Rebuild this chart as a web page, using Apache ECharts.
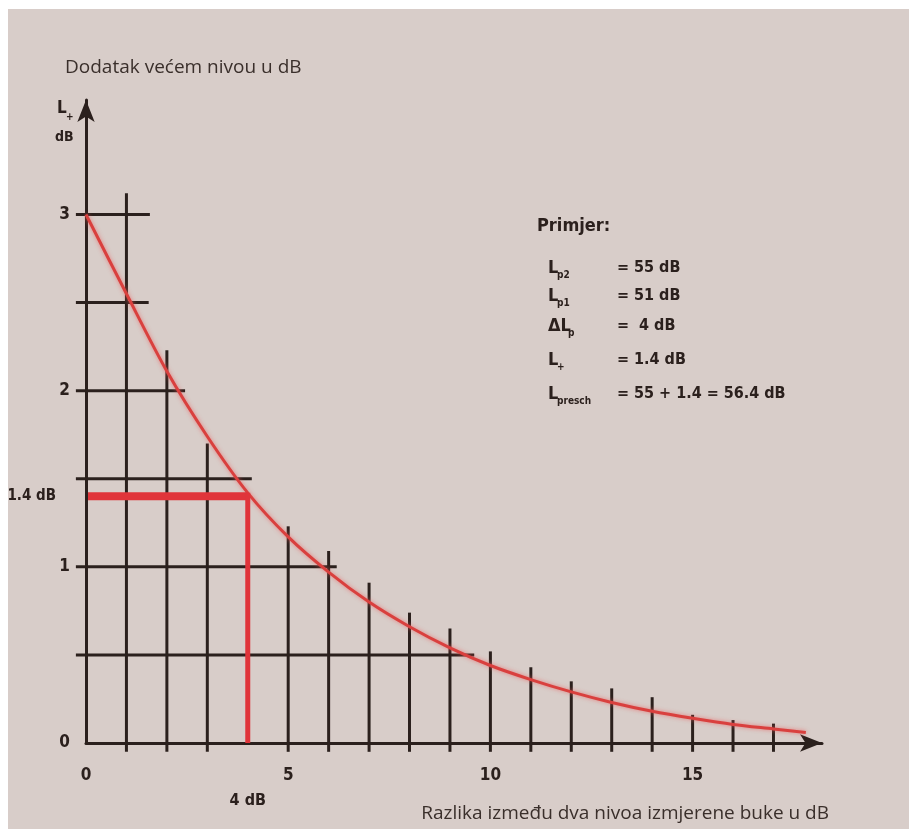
<!DOCTYPE html>
<html>
<head>
<meta charset="utf-8">
<script src="https://cdn.jsdelivr.net/npm/echarts@6/dist/echarts.min.js"></script>
<style>
html,body{margin:0;padding:0;background:#fff;}
#c{width:909px;height:829px;}
</style>
</head>
<body>
<div id="c"></div>
<script>
// ---- data ----
const curveX = [0,1,2,3,4,5,6,7,8,9,10,11,12,13,14,15,16,17,17.8];
const curveY = [3.0,2.55,2.11,1.74,1.42,1.17,0.97,0.80,0.66,0.54,0.44,0.36,0.29,0.23,0.18,0.14,0.105,0.08,0.06];
const vGridX = [1,2,3,5,6,7,8,9,10,11,12,13,14,15,16,17];
const vGridTop = [3.12,2.23,1.70,1.23,1.09,0.91,0.74,0.65,0.52,0.43,0.35,0.31,0.26,0.16,0.13,0.11];
const hGridY = [0.5,1,1.5,2,2.5,3];
const hGridEnd = [9.6,6.2,4.1,2.45,1.55,1.58];
const xTickLabels = [0,5,10,15];
const yTickLabels = [0,1,2,3];
const exampleDiff = 4;      // ΔLp
const exampleAdd = 1.4;     // L+
const exampleRows = [
  {main:'L', sub:'p2', val:'= 55 dB'},
  {main:'L', sub:'p1', val:'= 51 dB'},
  {main:'ΔL', sub:'p', val:'=  4 dB'},
  {main:'L', sub:'+', val:'= 1.4 dB'},
  {main:'L', sub:'presch', val:'= 55 + 1.4 = 56.4 dB'}
];

const ink = '#2b201d';
const red = '#e0343a';
const boldFont = "'Liberation Sans Narrow','DejaVu Sans Condensed','Open Sans',sans-serif";
const plainFont = "'Open Sans','Noto Sans',sans-serif";

const gridSegs = [];
vGridX.forEach((x,i)=>gridSegs.push([x,-0.05,x,vGridTop[i]]));
hGridY.forEach((y,i)=>gridSegs.push([-0.25,y,hGridEnd[i],y]));

const chart = echarts.init(document.getElementById('c'), null, {renderer:'canvas'});

const rowYs = [270,298,328,362,396];
const exGraphics = [];
exGraphics.push({type:'text', left:537, top:217, style:{text:'Primjer:', font:"bold 18px "+boldFont, fill:ink}});
exampleRows.forEach((r,i)=>{
  const y = rowYs[i];
  exGraphics.push({type:'text', x:548, y:y-11, style:{text:r.main, font:"bold 18px "+boldFont, fill:ink}});
  const mw = r.main === 'L' ? 9 : 20;
  exGraphics.push({type:'text', x:548+mw, y:y, style:{text:r.sub, font:"bold 10px "+boldFont, fill:ink}});
  exGraphics.push({type:'text', x:617, y:y-10, style:{text:r.val, font:"bold 16px "+boldFont, fill:ink}});
});

chart.setOption({
  backgroundColor:'#ffffff',
  animation:false,
  graphic:[
    {type:'rect', left:8, top:9, shape:{width:901, height:820}, style:{fill:'#d8cdc9'}, z:-10},
    {type:'text', left:65, top:58, style:{text:'Dodatak većem nivou u dB', font:"19px "+plainFont, fill:'#3a2f2b'}},
    {type:'text', x:57, y:100, style:{text:'L', font:"bold 17px "+boldFont, fill:ink}},
    {type:'text', x:66, y:112, style:{text:'+', font:"bold 10px "+boldFont, fill:ink}},
    {type:'text', x:55, y:130, style:{text:'dB', font:"bold 14px "+boldFont, fill:ink}},
    {type:'text', right:80, top:804, style:{text:'Razlika između dva nivoa izmjerene buke u dB', font:"19px "+plainFont, fill:'#3a2f2b'}}
  ].concat(exGraphics),
  grid:{left:86, right:87, top:100, bottom:86, containLabel:false},
  xAxis:{
    type:'value', min:0, max:18.2, interval:5,
    axisLine:{show:true, symbol:['none','arrow'], symbolSize:[13,22], lineStyle:{color:ink, width:3}},
    axisTick:{show:false}, splitLine:{show:false},
    axisLabel:{color:ink, fontSize:17, fontWeight:'bold', fontFamily:boldFont, margin:24, showMaxLabel:false,
      formatter:v=>xTickLabels.includes(v)?String(v):''}
  },
  yAxis:{
    type:'value', min:0, max:3.65, interval:1,
    axisLine:{show:true, symbol:['none','arrow'], symbolSize:[13,22], lineStyle:{color:ink, width:3}},
    axisTick:{show:false}, splitLine:{show:false},
    axisLabel:{color:ink, fontSize:17, fontWeight:'bold', fontFamily:boldFont, margin:16, showMaxLabel:false,
      formatter:v=>yTickLabels.includes(v)?String(v):''}
  },
  series:[
    {
      type:'custom', clip:false, silent:true, z:2,
      data:gridSegs,
      encode:{x:[0,2], y:[1,3]},
      renderItem:(params, api)=>{
        const p1 = api.coord([api.value(0), api.value(1)]);
        const p2 = api.coord([api.value(2), api.value(3)]);
        return {type:'line', shape:{x1:p1[0],y1:p1[1],x2:p2[0],y2:p2[1]}, style:{stroke:ink, lineWidth:3}};
      }
    },
    {
      type:'line', smooth:0.3, symbol:'none', z:3,
      data:curveX.map((x,i)=>[x,curveY[i]]),
      lineStyle:{color:'#d9403e', width:3, shadowBlur:4, shadowColor:'rgba(235,90,90,0.7)'}
    },
    {
      type:'line', symbol:'none', z:4,
      data:[[0.05,exampleAdd],[exampleDiff,exampleAdd]],
      lineStyle:{color:red, width:8, cap:'butt'}
    },
    {
      type:'line', symbol:'none', z:4,
      data:[[exampleDiff,exampleAdd+0.02],[exampleDiff,0]],
      lineStyle:{color:red, width:5, cap:'butt'}
    },
    {
      type:'scatter', symbolSize:0, z:5, silent:true,
      itemStyle:{opacity:1},
      data:[[0,exampleAdd]],
      label:{show:true, position:'left', distance:30, formatter:exampleAdd.toFixed(1)+' dB',
        color:ink, fontSize:15, fontWeight:'bold', fontFamily:boldFont}
    },
    {
      type:'scatter', symbolSize:0, z:5, silent:true,
      itemStyle:{opacity:1},
      data:[[exampleDiff,0]],
      label:{show:true, position:'bottom', distance:50, formatter:exampleDiff+' dB',
        color:ink, fontSize:16, fontWeight:'bold', fontFamily:boldFont}
    }
  ]
});
</script>
</body>
</html>
